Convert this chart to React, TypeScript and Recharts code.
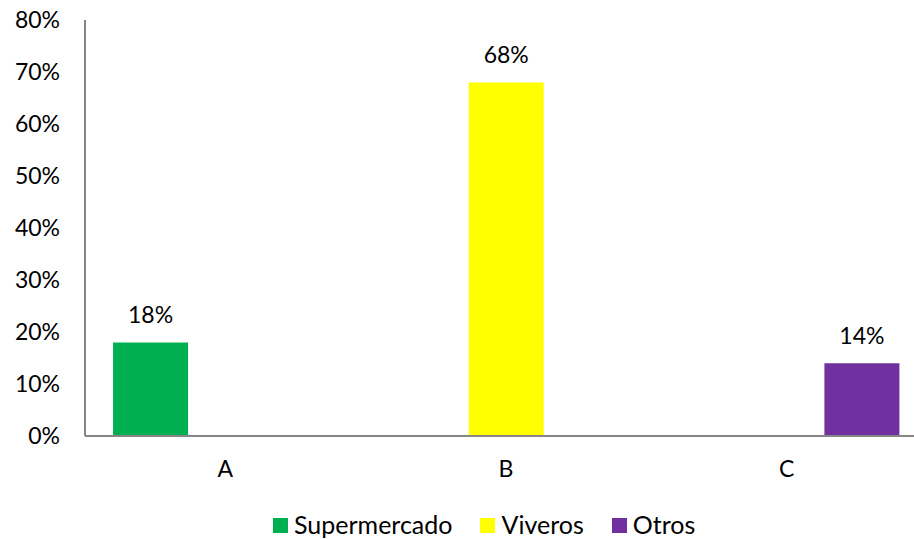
import React from 'react';
import { BarChart, Bar, XAxis, YAxis, LabelList, Legend } from 'recharts';

const categories = ['A', 'B', 'C'];
const supermercado = [18, null, null];
const viveros = [null, 68, null];
const otros = [null, null, 14];
const yTicks = [0, 10, 20, 30, 40, 50, 60, 70, 80];

const seriesNames = ['Supermercado', 'Viveros', 'Otros'];
const seriesColors = ['#00B050', '#FFFF00', '#7030A0'];

const data = categories.map((c, i) => ({
  name: c,
  Supermercado: supermercado[i],
  Viveros: viveros[i],
  Otros: otros[i],
}));

const FONT = 'Lato, "Open Sans", sans-serif';

const fmt = (v: any) => (v === null || v === undefined ? '' : `${v}%`);

const LegendContent = () => (
  <div style={{ width: 914, height: 30, boxSizing: 'border-box', paddingLeft: 273, display: 'flex', justifyContent: 'flex-start', alignItems: 'center', fontFamily: FONT, fontSize: 25, lineHeight: '30px', color: '#000' }}>
    {seriesNames.map((n, i) => (
      <div key={n} style={{ display: 'flex', alignItems: 'center', marginRight: i < 2 ? 28 : 0 }}>
        <span style={{ display: 'inline-block', width: 15, height: 15, background: seriesColors[i], marginRight: 6, marginTop: 3 }} />
        <span>{n}</span>
      </div>
    ))}
  </div>
);

export default function App() {
  return (
    <div style={{ position: 'absolute', left: 0, top: 0, width: 914, height: 539, overflow: 'hidden', background: '#fff' }}>
      <BarChart
        width={927}
        height={539}
        data={data}
        margin={{ top: 20, right: 0, left: 0, bottom: 0 }}
        barCategoryGap="10%"
        barGap={0}
      >
        <XAxis
          dataKey="name"
          tickLine={false}
          tickSize={0}
          tickMargin={25}
          height={73}
          axisLine={{ stroke: '#868686', strokeWidth: 2 }}
          tick={{ fill: '#000', fontSize: 23, fontFamily: FONT }}
        />
        <YAxis
          domain={[0, 80]}
          ticks={yTicks}
          tickFormatter={(v) => `${v}%`}
          tickLine={false}
          tickSize={0}
          tickMargin={25}
          width={85}
          axisLine={{ stroke: '#868686', strokeWidth: 2 }}
          tick={{ fill: '#000', fontSize: 23, fontFamily: FONT }}
          interval={0}
        />
        <Legend verticalAlign="bottom" align="left" height={30} content={<LegendContent />} />
        {seriesNames.map((n, i) => (
          <Bar key={n} dataKey={n} fill={seriesColors[i]} isAnimationActive={false}>
            <LabelList dataKey={n} position="top" offset={19} formatter={fmt} style={{ fill: '#000', fontSize: 23, fontFamily: FONT }} />
          </Bar>
        ))}
      </BarChart>
    </div>
  );
}
